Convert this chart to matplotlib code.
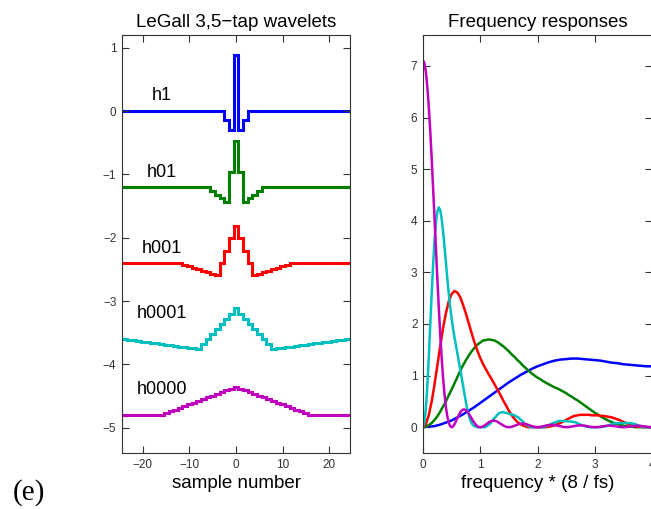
import numpy as np
import matplotlib
matplotlib.use('Agg')
import matplotlib.pyplot as plt

# wavelet samples, centred on sample 0
h1 = [-0.147, -0.295, 0.885, -0.295, -0.147]
h01 = [-0.06, -0.12, -0.181, -0.241, 0.241, 0.722, 0.241, -0.241, -0.181, -0.12, -0.06]
h001 = [-0.025, -0.049, -0.074, -0.098, -0.123, -0.147, -0.172, -0.197, 0, 0.197, 0.393,
        0.59,
        0.393, 0.197, 0, -0.197, -0.172, -0.147, -0.123, -0.098, -0.074, -0.049, -0.025]
h0001 = [-0.01, -0.02, -0.03, -0.04, -0.05, -0.06, -0.07, -0.08, -0.09, -0.1, -0.11, -0.12,
         -0.13, -0.14, -0.15, -0.161, -0.08, 0, 0.08, 0.161, 0.241, 0.321, 0.401,
         0.482,
         0.401, 0.321, 0.241, 0.161, 0.08, 0, -0.08, -0.161, -0.15, -0.14, -0.13, -0.12,
         -0.11, -0.1, -0.09, -0.08, -0.07, -0.06, -0.05, -0.04, -0.03, -0.02, -0.01]
h0000 = [0.028, 0.056, 0.083, 0.111, 0.139, 0.167, 0.194, 0.222, 0.25, 0.278, 0.306, 0.333,
         0.361, 0.389, 0.417,
         0.444,
         0.417, 0.389, 0.361, 0.333, 0.306, 0.278, 0.25, 0.222, 0.194, 0.167, 0.139, 0.111,
         0.083, 0.056, 0.028]
names = ['h1', 'h01', 'h001', 'h0001', 'h0000']
offsets = [0, -1.2, -2.4, -3.6, -4.8]

# frequency responses, sampled evenly over 0..4 (frequency * 8/fs)
f1 = [0, .01, .02, .05, .09, .13, .19, .25, .32, .39, .47, .55, .63, .71, .79, .87, .94, 1.01,
      1.07, 1.13, 1.18, 1.22, 1.26, 1.29, 1.31, 1.32, 1.33, 1.33, 1.32, 1.31, 1.3, 1.29, 1.27,
      1.25, 1.24, 1.22, 1.21, 1.2, 1.19, 1.18, 1.18]
f01 = [0, .01, .04, .08, .14, .21, .3, .4, .5, .62, .73, .85, .97, 1.09, 1.2, 1.3, 1.39, 1.47,
       1.54, 1.6, 1.64, 1.68, 1.69, 1.7, 1.69, 1.68, 1.65, 1.61, 1.57, 1.52, 1.47, 1.41, 1.36,
       1.3, 1.25, 1.19, 1.14, 1.09, 1.04, 1, .96, .93, .89, .86, .83, .8, .77, .75, .72, .69,
       .66, .62, .59, .55, .52, .48, .44, .4, .36, .32, .28, .25, .21, .18, .15, .12, .1, .07,
       .06, .04, .03, .02, .01, .01, 0, 0, 0, 0, 0, 0, 0]
f001 = [0, .06, .23, .49, .82, 1.19, 1.56, 1.92, 2.21, 2.44, 2.58, 2.64, 2.61, 2.52, 2.37, 2.2,
        2.01, 1.82, 1.64, 1.48, 1.34, 1.22, 1.12, 1.02, .93, .83, .73, .63, .52, .42, .32, .23,
        .16, .1, .06, .03, .01, 0, 0, 0, 0, 0, 0, 0, .01, .02, .04, .06, .08, .11, .14, .17, .2,
        .22, .23, .24, .24, .24, .24, .23, .23, .23, .22, .22, .21, .2, .19, .17, .15, .13, .1,
        .08, .06, .04, .02, .01, .01, 0, 0, 0, 0]
f0001 = [0, .09, .37, .79, 1.33, 1.94, 2.55, 3.11, 3.59, 3.95, 4.18, 4.26, 4.21, 4.05, 3.81,
         3.51, 3.2, 2.88, 2.59, 2.33, 2.11, 1.91, 1.74, 1.59, 1.43, 1.28, 1.12, .96, .79, .63,
         .48, .34, .23, .14, .08, .04, .02, .01, 0, 0, 0, 0, 0, 0, .01, .03, .05, .07, .11, .14,
         .18, .21, .24, .27, .28, .29, .29, .28, .28, .27, .26, .25, .25, .24, .23, .21, .2, .18,
         .15, .13, .1, .07, .05, .03, .02, .01, 0, 0, 0, 0, 0, 0, 0, 0, 0, .01, .02, .03, .04,
         .05, .07, .08, .09, .1, .11, .12, .12, .12, .12, .12, .12, .11, .11, .11, .11, .1, .1,
         .09, .08, .06, .05, .04, .03, .02, .01, .01, 0, 0, 0, 0, 0, 0, 0, 0, 0, .01, .01, .02,
         .02, .03, .04, .05, .06, .07, .08, .08, .08, .08, .08, .08, .08, .08, .08, .08, .08,
         .08, .07, .07, .06, .05, .04, .03, .02, .01, .01, 0, 0, 0, 0, 0, 0]
f0000 = [7.111, 7.053, 6.881, 6.602, 6.226, 5.769, 5.246, 4.677, 4.082, 3.48, 2.891, 2.333,
         1.819, 1.361, 0.968, 0.645, 0.392, 0.207, 0.086, 0.02, 0, 0.016, 0.058, 0.114, 0.176,
         0.235, 0.285, 0.321, 0.341, 0.343, 0.33, 0.302, 0.263, 0.218, 0.169, 0.122, 0.08,
         0.045, 0.02, 0.005, 0, 0.004, 0.017, 0.034, 0.055, 0.076, 0.095, 0.111, 0.122, 0.127,
         0.125, 0.118, 0.105, 0.089, 0.071, 0.053, 0.035, 0.02, 0.009, 0.002, 0, 0.002, 0.008,
         0.017, 0.028, 0.039, 0.05, 0.059, 0.066, 0.069, 0.069, 0.066, 0.06, 0.051, 0.041,
         0.031, 0.021, 0.012, 0.006, 0.001, 0, 0.001, 0.005, 0.011, 0.018, 0.025, 0.033, 0.039,
         0.043, 0.046, 0.046, 0.045, 0.041, 0.035, 0.029, 0.022, 0.015, 0.009, 0.004, 0.001, 0,
         0.001, 0.004, 0.008, 0.013, 0.019, 0.024, 0.029, 0.033, 0.035, 0.036, 0.034, 0.032,
         0.028, 0.022, 0.017, 0.012, 0.007, 0.003, 0.001, 0, 0.001, 0.003, 0.007, 0.011, 0.016,
         0.02, 0.025, 0.028, 0.03, 0.03, 0.029, 0.027, 0.024, 0.019, 0.015, 0.01, 0.006, 0.003,
         0.001, 0, 0.001, 0.003, 0.006, 0.01, 0.014, 0.019, 0.022, 0.025, 0.027, 0.028, 0.027,
         0.025, 0.022, 0.018, 0.014, 0.01, 0.006, 0.003, 0.001, 0]

colors = ['#0000ff', '#008000', '#ff0000', '#00bfbf', '#bf00bf']

plt.rcParams['font.family'] = ['Liberation Sans', 'DejaVu Sans']
fig = plt.figure(figsize=(6.51, 5.09), dpi=100)
ax1 = fig.add_axes([122 / 651, 56 / 509, 228 / 651, 418 / 509])
ax2 = fig.add_axes([423 / 651, 56 / 509, 229 / 651, 418 / 509])

# left: wavelets as stairs, padded with zeros out to +-25
samples = np.arange(-25, 26)
edges = np.append(samples - 0.5, samples[-1] + 0.5)
name_y = [0.17, -1.04, -2.24, -3.27, -4.47]
for wv, off, c, nm, ny in zip([h1, h01, h001, h0001, h0000], offsets, colors, names, name_y):
    n = (len(wv) - 1) // 2
    full = np.zeros(len(samples))
    full[25 - n:25 + n + 1] = wv
    ax1.stairs(full + off, edges, baseline=None, color=c, lw=2.2)
    ax1.text(-16, ny, nm, ha='center', va='baseline', fontsize=13)
ax1.set_xlim(-24.5, 24.5)
ax1.set_ylim(-5.4, 1.2)
ax1.set_xticks([-20, -10, 0, 10, 20])
ax1.set_yticks([-5, -4, -3, -2, -1, 0, 1])
ax1.set_title('LeGall 3,5\u2212tap wavelets', fontsize=13.5, pad=6)
ax1.set_xlabel('sample number', fontsize=13.5, labelpad=3)

# right: frequency responses
for ff, c in zip([f1, f01, f001, f0001, f0000], colors):
    ax2.plot(np.linspace(0, 4, len(ff)), ff, color=c, lw=1.8)
ax2.set_xlim(0, 4)
ax2.set_ylim(-0.5, 7.6)
ax2.set_xticks([0, 1, 2, 3, 4])
ax2.set_yticks(range(8))
ax2.set_title('Frequency responses', fontsize=13.5, pad=6)
ax2.set_xlabel('frequency * (8 / fs)', fontsize=13.5, labelpad=3)

for ax in (ax1, ax2):
    ax.tick_params(direction='in', length=5, width=0.8, top=True, right=True,
                   labelsize=8.5, colors='#333333', pad=4)
    for s in ax.spines.values():
        s.set_color('#333333')
        s.set_linewidth(0.8)

fig.text(13 / 651, 9 / 509, '(e)', fontsize=21, family='Liberation Serif')
fig.savefig('out.png')
